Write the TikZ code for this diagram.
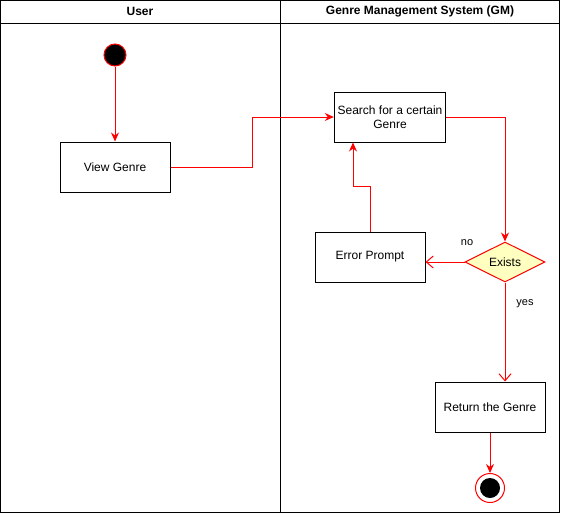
\documentclass[tikz,border=0pt]{standalone}
\usepackage{fontspec}
\setmainfont{Liberation Sans}
\usepackage{xcolor}
\definecolor{flowred}{RGB}{255,0,0}
\definecolor{decisionfill}{RGB}{255,255,192}
\usepackage{tikz}
\usetikzlibrary{positioning,arrows.meta,shapes.geometric}
\tikzset{
  block/.style   ={rectangle,draw=black,fill=white,line width=1pt,align=center,
                   minimum height=50pt,minimum width=110pt,font=\fontsize{12}{14}\selectfont},
  decision/.style={diamond,draw=flowred,fill=decisionfill,line width=1pt,aspect=2,
                   minimum width=80pt,minimum height=40pt,inner sep=0pt,font=\fontsize{12}{14}\selectfont},
  startdot/.style={circle,draw=flowred,fill=black,line width=1pt,minimum size=22pt,inner sep=0pt},
  stopring/.style={circle,draw=flowred,fill=white,line width=1pt,minimum size=29pt,inner sep=0pt},
  lanehead/.style={font=\bfseries\fontsize{12}{14}\selectfont},
  guard/.style   ={font=\fontsize{11}{13}\selectfont},
  flow/.style    ={-{Stealth[length=9pt,width=8pt]},line width=1pt,draw=flowred},
  openflow/.style={-{Straight Barb[length=7pt,width=12pt]},line width=1pt,draw=flowred},
}
\begin{document}
\begin{tikzpicture}[x=1pt,y=-1pt]
  \useasboundingbox (0,0) rectangle (561,514);
  % swimlanes
  \draw[line width=1pt] (0.5,0.5) rectangle (559.5,512.5);
  \draw[line width=1pt] (0.5,23) -- (559.5,23);
  \draw[line width=1pt] (280,0.5) -- (280,512.5);
  \node[lanehead] (userlane) at (140,11.5) {User};
  \node[lanehead] (gmlane) at (420,11.5) {Genre Management System (GM)};

  % activities
  \node[startdot] (start) at (115,55) {};
  \node[block] (view) at (115,167) {View Genre};
  \node[block] (search) at (390,117) {Search for a certain\\Genre};
  \node[decision] (exists) at (505,262) {Exists};
  \node[block] (error) at (370,257) {Error Prompt};
  \node[block] (ret) at (490,407) {Return the Genre};
  \node[stopring] (stop) at (490,488) {};
  \node[startdot,minimum size=20pt,draw=none] (stopdot) at (stop) {};

  % transitions
  \draw[flow] (start) -- (view);
  \draw[flow] (view.east) -- ++(82,0) |- (search.west);
  \draw[flow] (search.east) -| (exists.north);
  \draw[openflow] (exists.west) -- (error.east |- exists.west);
  \draw[flow] (error.north) -- ++(0,-45) -| ([xshift=-37pt]search.south);
  \draw[openflow] (exists.south) -- (exists.south |- ret.north);
  \draw[flow] (ret) -- (stop);

  % guards
  \node[guard] (nolabel) at (467,243) {no};
  \node[guard] (yeslabel) at (525,304) {yes};
\end{tikzpicture}
\end{document}
